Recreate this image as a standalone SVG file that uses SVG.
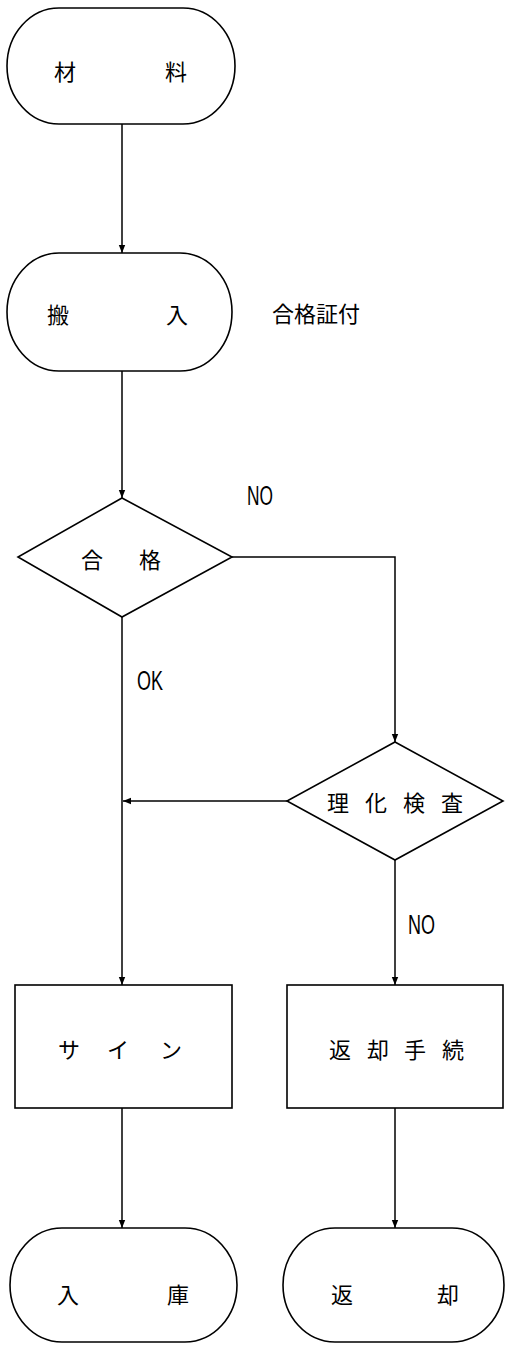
<svg xmlns="http://www.w3.org/2000/svg" width="506" height="1348" viewBox="0 0 506 1348">
<style>
.shape{fill:#fff;stroke:#000;stroke-width:1.6}
.edge{fill:none;stroke:#000;stroke-width:1.5}
.t{font-family:"Noto Sans CJK JP","Noto Sans CJK SC",sans-serif;font-size:22px;fill:#000;text-anchor:middle;dominant-baseline:central}
.lab{font-family:"Liberation Sans Narrow","Liberation Sans",sans-serif;font-size:27px;fill:#000}
</style>
<defs>
<marker id="arr" viewBox="0 0 10 10" refX="10" refY="5" markerWidth="8" markerHeight="8" markerUnits="userSpaceOnUse" orient="auto">
<path d="M0,1 L10,5 L0,9 Z" fill="#000"/>
</marker>
</defs>
<rect width="506" height="1348" fill="#fff"/>
<g id="connectors">
<path class="edge" d="M122,124 V253" marker-end="url(#arr)"/>
<path class="edge" d="M122,371 V498" marker-end="url(#arr)"/>
<path class="edge" d="M232,557 H395 V742" marker-end="url(#arr)"/>
<path class="edge" d="M122,617 V985" marker-end="url(#arr)"/>
<path class="edge" d="M287,801 H123" marker-end="url(#arr)"/>
<path class="edge" d="M395,860 V985" marker-end="url(#arr)"/>
<path class="edge" d="M122,1108 V1228" marker-end="url(#arr)"/>
<path class="edge" d="M395,1108 V1228" marker-end="url(#arr)"/>
<text class="lab" x="247" y="505" textLength="26" lengthAdjust="spacingAndGlyphs">NO</text>
<text class="lab" x="137" y="690" textLength="26" lengthAdjust="spacingAndGlyphs">OK</text>
<text class="lab" x="408" y="934" textLength="27" lengthAdjust="spacingAndGlyphs">NO</text>
</g>
<g id="n-zairyo">
<rect class="shape" x="7" y="8" width="228" height="116" rx="52" ry="58"/>
<text class="t" x="65" y="70">材</text>
<text class="t" x="176" y="70">料</text>
</g>
<g id="n-hannyu">
<rect class="shape" x="7" y="253" width="225" height="118" rx="52" ry="59"/>
<text class="t" x="58" y="313">搬</text>
<text class="t" x="177" y="313">入</text>
</g>
<g id="n-note">
<text class="t" x="316" y="312">合格証付</text>
</g>
<g id="n-goukaku">
<polygon class="shape" points="122,498 232,557 122,617 18,557"/>
<text class="t" x="92" y="558">合</text>
<text class="t" x="150" y="558">格</text>
</g>
<g id="n-rika">
<polygon class="shape" points="395,742 503,801 395,860 287,801"/>
<text class="t" x="338" y="801">理</text>
<text class="t" x="376" y="801">化</text>
<text class="t" x="414" y="801">検</text>
<text class="t" x="452" y="801">査</text>
</g>
<g id="n-sign">
<rect class="shape" x="15" y="985" width="217" height="123"/>
<text class="t" x="69" y="1048">サ</text>
<text class="t" x="118" y="1048">イ</text>
<text class="t" x="171" y="1048">ン</text>
</g>
<g id="n-henkyakutetsuzuki">
<rect class="shape" x="287" y="985" width="216" height="123"/>
<text class="t" x="340" y="1048">返</text>
<text class="t" x="378" y="1048">却</text>
<text class="t" x="415" y="1048">手</text>
<text class="t" x="453" y="1048">続</text>
</g>
<g id="n-nyuuko">
<rect class="shape" x="10" y="1228" width="227" height="114" rx="52" ry="57"/>
<text class="t" x="68" y="1293">入</text>
<text class="t" x="178" y="1293">庫</text>
</g>
<g id="n-henkyaku">
<rect class="shape" x="283" y="1228" width="221" height="114" rx="52" ry="57"/>
<text class="t" x="342" y="1293">返</text>
<text class="t" x="448" y="1293">却</text>
</g>
</svg>
